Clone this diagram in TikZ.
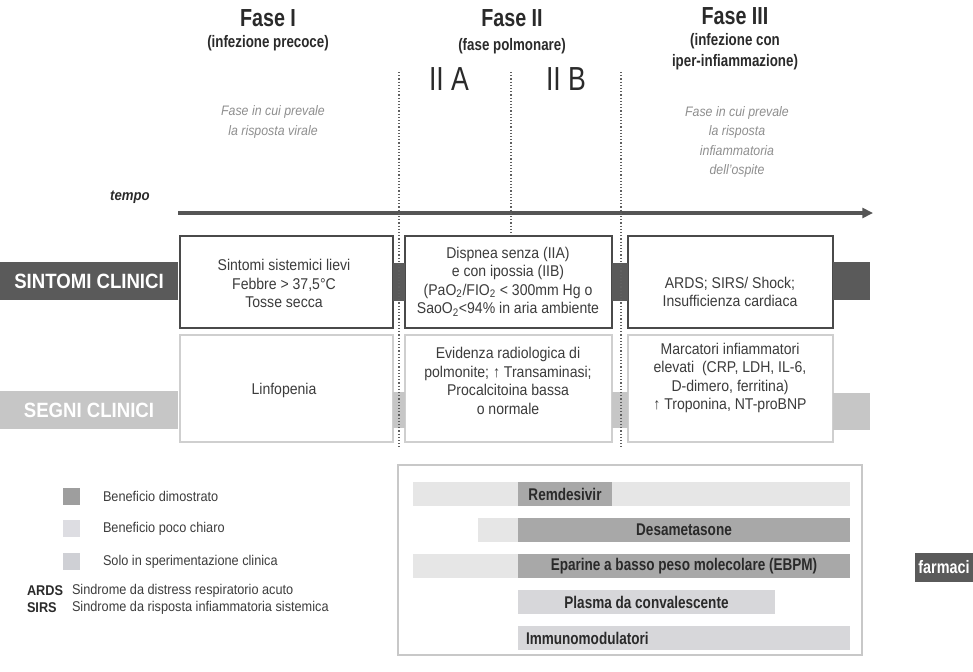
\documentclass[tikz,border=0pt]{standalone}
\usepackage{fontspec}
\setmainfont[FakeStretch=0.9]{Liberation Sans}
\newfontfamily\condfont[FakeStretch=0.8]{Liberation Sans}
\usetikzlibrary{arrows.meta,calc}
\definecolor{labdark}{HTML}{5A5A5A}
\definecolor{lablight}{HTML}{C6C6C6}
\definecolor{boxdark}{HTML}{4A4A4A}
\definecolor{gborder}{HTML}{CFCFCF}
\definecolor{txt}{HTML}{3C3C3C}
\definecolor{hdr}{HTML}{2A2A2A}
\definecolor{ital}{HTML}{8E8E8E}
\definecolor{arrowc}{HTML}{555555}
\definecolor{dotc}{HTML}{606060}
\definecolor{bardark}{HTML}{A8A8A8}
\definecolor{barlight}{HTML}{D7D7DA}
\definecolor{barfaint}{HTML}{E6E6E6}
\definecolor{dboxc}{HTML}{C8C8C8}
\definecolor{legdim}{HTML}{9E9E9E}
\definecolor{legpoco}{HTML}{DDDDE2}
\definecolor{legsolo}{HTML}{CFD0D5}
\begin{document}
\begin{tikzpicture}[x=0.75pt,y=-0.75pt,
  every node/.style={inner sep=0pt, outer sep=0pt},
  sbox/.style={draw=boxdark, line width=2.2pt, fill=white, minimum height=69pt},
  gbox/.style={draw=gborder, line width=1.5pt, fill=white, minimum height=80.25pt},
  body/.style={text=txt, font=\fontsize{11.7}{13.9}\selectfont, align=center},
  itxt/.style={text=ital, font=\fontsize{10.3}{14.4}\selectfont\itshape, align=center},
  hdrbig/.style={text=hdr, font=\condfont\fontsize{18.5}{20}\selectfont\bfseries},
  hdrsub/.style={text=hdr, font=\condfont\fontsize{12.5}{15.5}\selectfont\bfseries, align=center},
  subph/.style={text=hdr, font=\condfont\fontsize{25}{27}\selectfont},
  sidelab/.style={text=white, font=\fontsize{15.5}{17}\selectfont\bfseries, minimum width=133.5pt, minimum height=28.5pt},
  barlab/.style={text=hdr, font=\condfont\fontsize{12.7}{15}\selectfont\bfseries, minimum height=18pt},
  legtxt/.style={text=txt, font=\fontsize{10.6}{12}\selectfont, anchor=west},
  legsq/.style={minimum width=12.75pt, minimum height=12.75pt},
  dotline/.style={draw=dotc, line width=0.9pt, dash pattern=on 0.9pt off 1.5pt},
  tarrow/.style={draw=arrowc, line width=2.4pt, -{Triangle[length=8pt,width=7.5pt]}}
]
\useasboundingbox (0,0) rectangle (973,671);

% headers
\node[hdrbig] (h1) at (268,18) {Fase I};
\node[hdrsub] (h1s) at (268,43) {(infezione precoce)};
\node[hdrbig] (h2) at (512,18) {Fase II};
\node[hdrsub] (h2s) at (512,46) {(fase polmonare)};
\node[subph] (pa) at (449,79) {II A};
\node[subph] (pb) at (566,79) {II B};
\node[hdrbig] (h3) at (735,16) {Fase III};
\node[hdrsub] (h3s) at (735,52) {(infezione con\\iper-infiammazione)};

\node[itxt] (i1) at (273,122) {Fase in cui prevale\\la risposta virale};
\node[itxt] (i3) at (737,142) {Fase in cui prevale\\la risposta\\infiammatoria\\dell'ospite};

% time axis
\node[text=hdr, font=\fontsize{11}{13}\selectfont\itshape\bfseries] (tempo) at (130,197) {tempo};
\coordinate (t0) at (178,213);
\coordinate (t1) at (873,213);
\draw[tarrow] (t0) -- (t1);

% side labels
\node[sidelab, fill=labdark] (lsint) at (89,281) {SINTOMI CLINICI};
\node[sidelab, fill=lablight] (lsegn) at (89,410) {SEGNI CLINICI};

% symptom boxes
\node[sbox, minimum width=159.75pt] (s1) at (286.5,282) {};
\node[sbox, minimum width=155.25pt] (s2) at (508.5,282) {};
\node[sbox, minimum width=153.75pt] (s3) at (730.5,282) {};
% sign boxes
\node[gbox, minimum width=159.75pt] (g1) at (286.5,388.5) {};
\node[gbox, minimum width=155.25pt] (g2) at (508.5,388.5) {};
\node[gbox, minimum width=153.75pt] (g3) at (730.5,388.5) {};

% tabs between boxes
\fill[labdark] ($(s1.east)+(0,-19)$) rectangle ($(s2.west)+(0,19)$);
\fill[labdark] ($(s2.east)+(0,-19)$) rectangle ($(s3.west)+(0,19)$);
\fill[labdark] ($(s3.east)+(0,-20)$) rectangle ($(s3.east)+(37,18)$);
\fill[lablight] ($(g1.east)+(0,3.5)$) rectangle ($(g2.west)+(0,39.5)$);
\fill[lablight] ($(g2.east)+(0,3.5)$) rectangle ($(g3.west)+(0,39.5)$);
\fill[lablight] ($(g3.east)+(0,4.5)$) rectangle ($(g3.east)+(37,41.5)$);

% box texts
\node[body] (ts1) at (284,283.5) {Sintomi sistemici lievi\\Febbre > 37,5°C\\Tosse secca};
\node[body] (ts2) at (508,281.5) {Dispnea senza (IIA)\\e con ipossia (IIB)\\(PaO\textsubscript{2}/FIO\textsubscript{2} < 300mm Hg o\\SaoO\textsubscript{2}<94\% in aria ambiente};
\node[body] (ts3) at (730,292) {ARDS; SIRS/ Shock;\\Insufficienza cardiaca};
\node[body] (tg1) at (284,390) {Linfopenia};
\node[body] (tg2) at (508,381) {Evidenza radiologica di\\polmonite; ↑ Transaminasi;\\Procalcitoina bassa\\o normale};
\node[body] (tg3) at (730,378) {Marcatori infiammatori\\elevati\ \ (CRP, LDH, IL-6,\\D-dimero, ferritina)\\↑ Troponina, NT-proBNP};

% dotted phase separators
\coordinate (d1a) at (399,72); \coordinate (d1b) at (399,447);
\coordinate (d2a) at (511,72); \coordinate (d2b) at (511,233);
\coordinate (d3a) at (621,72); \coordinate (d3b) at (621,447);
\draw[dotline] (d1a) -- (d1b);
\draw[dotline] (d2a) -- (d2b);
\draw[dotline] (d3a) -- (d3b);

% drugs panel
\node[draw=dboxc, line width=1pt, fill=white, minimum width=348pt, minimum height=142.5pt] (dbox) at (630,560) {};
\fill[barfaint] (413,482) rectangle (850,506);
\node[barlab, fill=bardark, minimum width=70.5pt] (rem) at (565,494) {Remdesivir};
\fill[barfaint] (478,518) rectangle (518,542);
\node[barlab, fill=bardark, minimum width=249pt] (des) at (684,530) {Desametasone};
\fill[barfaint] (413,554) rectangle (518,578);
\node[barlab, fill=bardark, minimum width=249pt] (ebpm) at (684,566) {Eparine a basso peso molecolare (EBPM)};
\node[barlab, fill=barlight, minimum width=192.75pt] (plas) at (646.5,602) {Plasma da convalescente};
\node[barlab, fill=barlight, minimum width=249pt, text width=237pt, align=left] (imm) at (684,638) {Immunomodulatori};
\node[sidelab, fill=labdark, minimum width=43.5pt, minimum height=21.75pt, font=\condfont\fontsize{13.5}{15}\selectfont\bfseries] (farm) at (944,567.5) {farmaci};

% legend
\node[legsq, fill=legdim] (q1) at (71.5,496.5) {};
\node[legsq, fill=legpoco] (q2) at (71.5,528.5) {};
\node[legsq, fill=legsolo] (q3) at (71.5,561.5) {};
\node[legtxt] (l1) at (103,496.5) {Beneficio dimostrato};
\node[legtxt] (l2) at (103,528.5) {Beneficio poco chiaro};
\node[legtxt] (l3) at (103,561.5) {Solo in sperimentazione clinica};
\node[legtxt, text=hdr, font=\fontsize{10.6}{12}\selectfont\bfseries] (ab1) at (27,591) {ARDS};
\node[legtxt] (ad1) at (72,591) {Sindrome da distress respiratorio acuto};
\node[legtxt, text=hdr, font=\fontsize{10.6}{12}\selectfont\bfseries] (ab2) at (27,608) {SIRS};
\node[legtxt] (ad2) at (72,608) {Sindrome da risposta infiammatoria sistemica};
\end{tikzpicture}
\end{document}
